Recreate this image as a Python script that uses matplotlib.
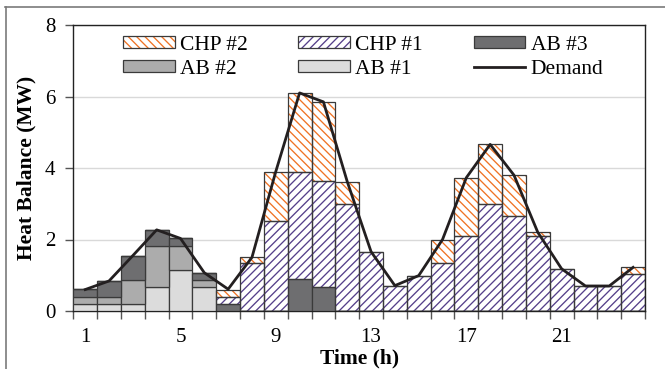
import matplotlib
matplotlib.use("Agg")
import matplotlib.pyplot as plt
import numpy as np
from matplotlib.patches import Patch
from matplotlib.lines import Line2D
from matplotlib.legend_handler import HandlerTuple

plt.rcParams['font.family'] = ['Liberation Serif', 'DejaVu Serif']
plt.rcParams['hatch.linewidth'] = 0.95

hours = list(range(1, 25))
ab1 = [0.2, 0.2, 0.2, 0.68, 1.15, 0.68, 0, 0, 0, 0, 0, 0, 0, 0, 0, 0, 0, 0, 0, 0, 0, 0, 0, 0]
ab2 = [0.2, 0.2, 0.67, 1.14, 0.67, 0.19, 0, 0, 0, 0, 0, 0, 0, 0, 0, 0, 0, 0, 0, 0, 0, 0, 0, 0]
ab3 = [0.21, 0.43, 0.68, 0.45, 0.21, 0.2, 0.2, 0, 0, 0.89, 0.66, 0, 0, 0, 0, 0, 0, 0, 0, 0, 0, 0, 0, 0]
chp1 = [0, 0, 0, 0, 0, 0, 0.2, 1.33, 2.52, 3.01, 2.99, 2.99, 1.64, 0.70, 0.99, 1.33, 2.10, 2.99, 2.66, 2.10, 1.17, 0.70, 0.70, 1.03]
chp2 = [0, 0, 0, 0, 0, 0, 0.2, 0.19, 1.38, 2.19, 2.19, 0.63, 0, 0, 0, 0.67, 1.63, 1.67, 1.14, 0.10, 0, 0, 0, 0.19]
demand = [0.6, 0.84, 1.55, 2.27, 2.03, 1.07, 0.61, 1.5, 3.9, 6.1, 5.85, 3.62, 1.66, 0.71, 0.99, 2.0, 3.73, 4.66, 3.8, 2.2, 1.18, 0.7, 0.7, 1.22]
xtick_labels = ['1', '5', '9', '13', '17', '21']

W, H = 665, 369
fig = plt.figure(figsize=(W / 100, H / 100), dpi=100)
ax = fig.add_axes([73.3 / W, 1 - 311 / H, (645 - 73.3) / W, (311 - 25) / H])

edge = '#3a3a3a'
orange = '#ef7325'
purple = '#55408a'

x = np.array(hours)
bottom = np.zeros(24)
series = [
    ('AB #1', ab1, dict(color='#dcdcdc')),
    ('AB #2', ab2, dict(color='#acacac')),
    ('AB #3', ab3, dict(color='#6e6e70')),
    ('CHP #1', chp1, dict(hatch='////', hc=purple)),
    ('CHP #2', chp2, dict(hatch='\\\\\\\\', hc=orange)),
]
hmap = {}
for name, vals, st in series:
    vals = np.array(vals, dtype=float)
    if 'hatch' in st:
        ax.bar(x, vals, width=1.0, bottom=bottom, facecolor='white', edgecolor=st['hc'],
               hatch=st['hatch'], linewidth=0, zorder=2)
        ax.bar(x, vals, width=1.0, bottom=bottom, fill=False, edgecolor=edge, linewidth=0.9, zorder=3)
        h1 = Patch(facecolor='white', edgecolor=st['hc'], hatch=st['hatch'], linewidth=0)
        h2 = Patch(fill=False, edgecolor=edge, linewidth=0.9)
        hmap[name] = (h1, h2)
    else:
        ax.bar(x, vals, width=1.0, bottom=bottom, color=st['color'], edgecolor=edge, linewidth=0.9, zorder=3)
        hmap[name] = Patch(facecolor=st['color'], edgecolor=edge, linewidth=0.9)
    bottom = bottom + vals

ax.plot(x, demand, color='#231f20', linewidth=2.0, zorder=5, solid_joinstyle='round')
hmap['Demand'] = Line2D([], [], color='#231f20', linewidth=2.0)

ax.set_xlim(0.5, 24.5)
ax.set_ylim(0, 8)
ax.set_yticks([0, 2, 4, 6, 8])
ax.yaxis.grid(True, color='#d9d9d9', linewidth=1.0, zorder=0)
ax.set_axisbelow(True)
ax.set_xticks(np.arange(0.5, 25, 1))
ax.set_xticklabels([])
ax.set_xticks([1, 5, 9, 13, 17, 21], minor=True)
ax.set_xticklabels(xtick_labels, minor=True)
ax.tick_params(axis='x', which='major', direction='out', length=6, color='#555555', width=1)
ax.tick_params(axis='x', which='minor', length=0, labelsize=15, pad=12)
ax.tick_params(axis='y', direction='out', length=6, color='#555555', width=1, labelsize=15, pad=7)
for s in ax.spines.values():
    s.set_color('#222222')
    s.set_linewidth(1.0)

ax.set_ylabel('Heat Balance (MW)', fontsize=15.5, fontweight='bold', labelpad=6)
ax.set_xlabel('Time (h)', fontsize=15.5, fontweight='bold', labelpad=1)

order = ['CHP #2', 'AB #2', 'CHP #1', 'AB #1', 'AB #3', 'Demand']
ax.legend([hmap[k] for k in order], order, ncol=3, loc='upper left',
          bbox_to_anchor=((123 - 73.3) / 571.7, 1 - 11 / 286), frameon=False,
          fontsize=15.5, handlelength=2.4, handleheight=0.5, handletextpad=0.25,
          columnspacing=2.35, labelspacing=0.22, borderpad=0, borderaxespad=0,
          handler_map={tuple: HandlerTuple(ndivide=1, pad=0)})

# outer frame lines
fig.add_artist(Line2D([5 / W, 1], [1 - 7 / H, 1 - 7 / H], color='#7a7a7a', linewidth=1.2, transform=fig.transFigure))
fig.add_artist(Line2D([6 / W, 6 / W], [0, 1 - 7 / H], color='#7a7a7a', linewidth=1.2, transform=fig.transFigure))

fig.savefig('out.png', dpi=100)
